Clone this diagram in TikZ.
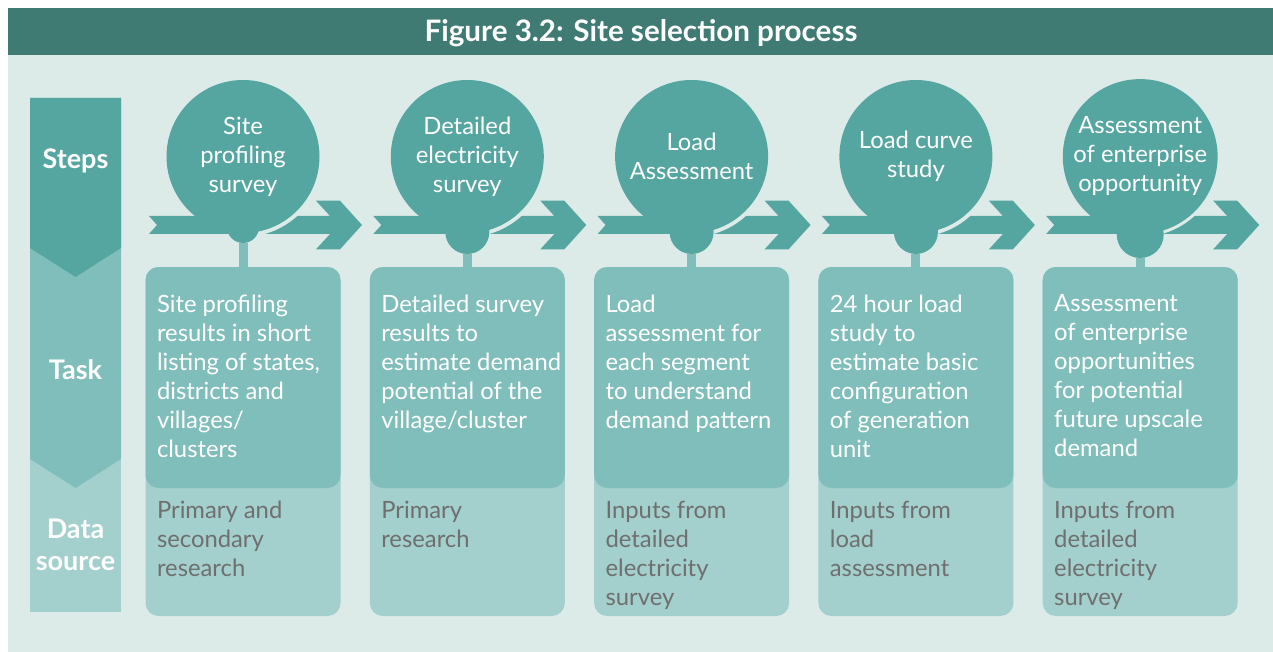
\documentclass[tikz,border=0pt]{standalone}
\usepackage{fontspec}
\setmainfont{Lato}
\usetikzlibrary{positioning}

\definecolor{titlebar}{HTML}{3F7B73}
\definecolor{panel}{HTML}{DDEBE8}
\definecolor{stepcol}{HTML}{55A6A1}
\definecolor{taskcol}{HTML}{80BEBB}
\definecolor{datacol}{HTML}{A3D0CC}
\definecolor{srcgray}{HTML}{6F6F6F}

\tikzstyle{stepcircle} = [circle, fill=stepcol, minimum size=153pt, inner sep=0pt, text=white, align=center, font=\fontsize{23.8}{29}\selectfont]
\tikzstyle{knob} = [circle, fill=stepcol, inner sep=0pt]
\tikzstyle{band} = [fill=stepcol]
\tikzstyle{gapring} = [draw=panel, line width=4pt]
\tikzstyle{taskbox} = [rectangle, rounded corners=13pt, fill=taskcol, minimum width=195pt, minimum height=221pt]
\tikzstyle{databox} = [rectangle, rounded corners=13pt, fill=datacol, minimum width=195pt, minimum height=349pt]
\tikzstyle{tasktext} = [inner sep=0pt, text=white, align=left, font=\fontsize{23.8}{29}\selectfont]
\tikzstyle{srctext} = [inner sep=0pt, text=srcgray, align=left, font=\fontsize{23.8}{29}\selectfont]
\tikzstyle{rowlabel} = [text=white, align=center, font=\bfseries\fontsize{27}{32}\selectfont]
\tikzstyle{stem} = [draw=taskcol, line width=9pt]

% arrow band through a step circle
\newcommand{\stepband}[1]{\fill[band] (#1) +(-94,59.5) -- +(87,59.5) -- +(73,44.2) -- +(97,44.2) -- +(119,68.5) -- +(97,92.8) -- +(73,92.8) -- +(87,77.5) -- +(-94,77.5) -- +(-86,68.5) -- cycle;
    \draw[gapring] (#1) ++(25:78.5) arc[start angle=25, end angle=80, radius=78.5];}

\begin{document}
\begin{tikzpicture}[x=1pt, y=-1pt]
    \useasboundingbox (0,0) rectangle (1273,652);
    \fill[panel] (8,8) rectangle (1273,652);
    \fill[titlebar] (8,8) rectangle (1273,55);
    \node[text=white, font=\bfseries\fontsize{29.6}{34}\selectfont] (title) at (641,33) {Figure 3.2: Site selection process};

    % row labels
    \fill[datacol] (30,98) rectangle (121,611.7);
    \fill[taskcol] (30,98) -- (121,98) -- (121,459) -- (75.5,488) -- (30,459) -- cycle;
    \fill[stepcol] (30,98) -- (121,98) -- (121,248) -- (75.5,277) -- (30,248) -- cycle;
    \node[rowlabel] (steps) at (75.5,161) {Steps};
    \node[rowlabel] (task) at (75.5,370) {Task};
    \node[rowlabel] (source) at (75.5,545) {Data\\source};

    \coordinate (c1) at (243,156.5);
    \coordinate (c2) at (467.3,156.5);
    \coordinate (c3) at (691.6,156.5);
    \coordinate (c4) at (915.9,156.5);
    \coordinate (c5) at (1140.2,156.5);
    \stepband{c1} \stepband{c2} \stepband{c3} \stepband{c4} \stepband{c5}

    \node[stepcircle] (step1) at (c1) {Site\\profiling\\survey};
    \node[stepcircle] (step2) at (c2) {Detailed\\electricity\\survey};
    \node[stepcircle] (step3) at (c3) {Load\\Assessment};
    \node[stepcircle] (step4) at (c4) {Load curve\\study};
    \node[stepcircle] (step5) at (c5) {Assessment\\of enterprise\\opportunity};

    \node[knob, minimum size=32pt] (knob1) at (243,227) {};
    \node[knob, minimum size=44pt] (knob2) at (467.3,232) {};
    \node[knob, minimum size=44pt] (knob3) at (691.6,232) {};
    \node[knob, minimum size=44pt] (knob4) at (915.9,232) {};
    \node[knob, minimum size=47pt] (knob5) at (1140.2,234.5) {};

    \node[databox] (data1) at (243,441.5) {};
    \node[taskbox] (task1) at (243,377.5) {};
    \node[databox] (data2) at (467.3,441.5) {};
    \node[taskbox] (task2) at (467.3,377.5) {};
    \node[databox] (data3) at (691.6,441.5) {};
    \node[taskbox] (task3) at (691.6,377.5) {};
    \node[databox] (data4) at (915.9,441.5) {};
    \node[taskbox] (task4) at (915.9,377.5) {};
    \node[databox] (data5) at (1140.2,441.5) {};
    \node[taskbox] (task5) at (1140.2,377.5) {};

    \draw[stem] (knob1.south) -- (task1.north);
    \draw[stem] (knob2.south) -- (task2.north);
    \draw[stem] (knob3.south) -- (task3.north);
    \draw[stem] (knob4.south) -- (task4.north);
    \draw[stem] (knob5.south) -- (task5.north);

    \node[tasktext, below right=27.5pt and 11.5pt of task1.north west] (tasktext1) {Site profiling\\results in short\\listing of states,\\districts and\\villages/\\clusters};
    \node[tasktext, below right=27.5pt and 11.5pt of task2.north west] (tasktext2) {Detailed survey\\results to\\estimate demand\\potential of the\\village/cluster};
    \node[tasktext, below right=27.5pt and 11.5pt of task3.north west] (tasktext3) {Load\\assessment for\\each segment\\to understand\\demand pattern};
    \node[tasktext, below right=27.5pt and 11.5pt of task4.north west] (tasktext4) {24 hour load\\study to\\estimate basic\\configuration\\of generation\\unit};
    \node[tasktext, below right=27.5pt and 11.5pt of task5.north west] (tasktext5) {Assessment\\of enterprise\\opportunities\\for potential\\future upscale\\demand};

    \node[srctext, below right=12.5pt and 11.5pt of task1.south west] (src1) {Primary and\\secondary\\research};
    \node[srctext, below right=12.5pt and 11.5pt of task2.south west] (src2) {Primary\\research};
    \node[srctext, below right=12.5pt and 11.5pt of task3.south west] (src3) {Inputs from\\detailed\\electricity\\survey};
    \node[srctext, below right=12.5pt and 11.5pt of task4.south west] (src4) {Inputs from\\load\\assessment};
    \node[srctext, below right=12.5pt and 11.5pt of task5.south west] (src5) {Inputs from\\detailed\\electricity\\survey};
\end{tikzpicture}
\end{document}
